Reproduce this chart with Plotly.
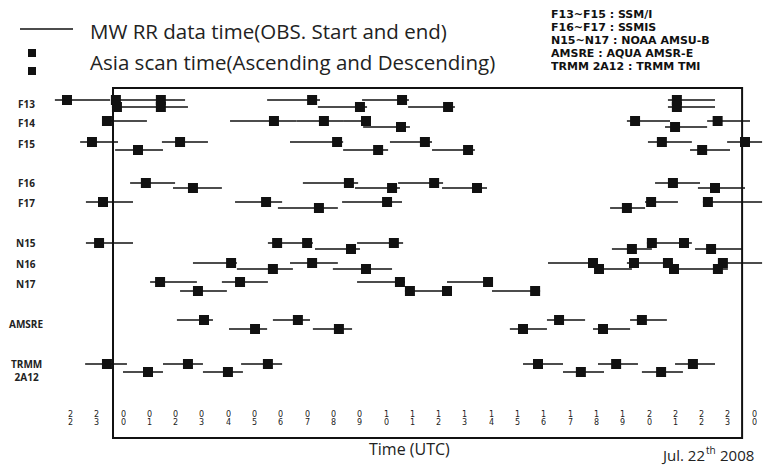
import plotly.graph_objects as go

# ---------------- data (UTC hours, relative to Jul. 22 00:00) ----------------
SATELLITES = ["F13", "F14", "F15", "F16", "F17", "N15", "N16", "N17", "AMSRE", "TRMM 2A12"]
ROW_LABELS = ["F13", "F14", "F15", "F16", "F17", "N15", "N16", "N17", "AMSRE", "TRMM<br>2A12"]

# each pass: (observation start, observation end, [Asia scan times])
F13_A = [(-2.59, -0.49, [-2.13]), (-0.42, 2.36, [-0.27, 1.44]), (5.48, 7.49, [7.19]),
         (9.09, 10.87, [10.61]), (20.72, 22.51, [21.06])]
F13_B = [(-0.42, 2.47, [-0.23, 1.44]), (7.41, 9.28, [9.01]), (10.84, 12.62, [12.36]),
         (20.72, 22.51, [21.06])]
F14_A = [(-0.76, 0.91, [-0.61]), (4.07, 6.60, [5.74]), (6.60, 8.40, [7.64]), (8.40, 9.39, [9.24]),
         (19.16, 20.80, [19.47]), (22.21, 23.84, [22.61])]
F14_B = [(9.13, 10.91, [10.57]), (20.61, 22.21, [20.99])]
F15_A = [(-1.63, -0.19, [-1.18]), (1.48, 3.23, [2.17]), (6.35, 8.37, [8.14]),
         (10.15, 11.75, [11.48]), (19.96, 21.63, [20.49]), (22.97, 24.30, [23.65])]
F15_B = [(-0.30, 1.52, [0.57]), (8.37, 10.08, [9.70]), (11.75, 13.38, [13.12]),
         (21.56, 23.08, [22.02])]
F16_A = [(0.27, 1.98, [0.87]), (6.84, 8.94, [8.59]), (10.46, 12.17, [11.83]),
         (20.23, 21.94, [20.91])]
F16_B = [(1.90, 3.76, [2.66]), (8.82, 10.53, [10.23]), (12.13, 13.84, [13.46]),
         (21.86, 23.65, [22.51])]
F17_A = [(-1.41, 0.38, [-0.76]), (4.26, 6.05, [5.44]), (8.33, 10.61, [10.04]),
         (19.85, 21.10, [20.08]), (22.05, 24.30, [22.24])]
F17_B = [(5.89, 8.17, [7.45]), (18.52, 19.85, [19.16])]
N15_A = [(-1.41, 0.38, [-0.91]), (5.51, 7.22, [5.86, 7.00]), (8.90, 10.65, [10.30]),
         (19.92, 21.63, [20.11, 21.33])]
N15_B = [(7.30, 9.01, [8.67]), (18.59, 20.11, [19.35]), (21.75, 23.54, [22.36])]
N16_A = [(2.66, 4.33, [4.11]), (6.35, 8.17, [7.19]), (16.16, 18.06, [17.87]),
         (19.16, 20.91, [19.43, 20.72]), (22.70, 24.30, [22.81])]
N16_B = [(4.33, 6.46, [5.70]), (7.98, 10.23, [9.24]), (17.95, 19.35, [18.10]),
         (20.80, 23.00, [20.95, 22.62])]
N17_A = [(1.03, 2.81, [1.41]), (3.76, 5.51, [4.45]), (8.90, 10.72, [10.53]),
         (12.32, 14.07, [13.88])]
N17_B = [(2.17, 3.95, [2.85]), (10.72, 12.51, [10.91, 12.32]), (14.03, 15.86, [15.67])]
AMSRE_A = [(2.05, 3.42, [3.08]), (5.70, 7.11, [6.65]), (16.12, 17.57, [16.58]),
           (19.28, 20.68, [19.73])]
AMSRE_B = [(4.03, 5.48, [5.02]), (7.22, 8.71, [8.21]), (14.71, 16.12, [15.21]),
           (17.87, 19.28, [18.25])]
TRMM_A = [(-1.44, 0.15, [-0.61]), (1.52, 3.04, [2.47]), (4.49, 6.05, [5.51]),
          (15.21, 16.73, [15.78]), (18.06, 19.58, [18.75]), (20.99, 22.51, [21.67])]
TRMM_B = [(0.00, 1.52, [0.95]), (3.04, 4.56, [3.99]), (16.73, 18.29, [17.41]),
          (19.73, 21.29, [20.46])]

PASSES = {
    "F13": (F13_A, F13_B), "F14": (F14_A, F14_B), "F15": (F15_A, F15_B),
    "F16": (F16_A, F16_B), "F17": (F17_A, F17_B), "N15": (N15_A, N15_B),
    "N16": (N16_A, N16_B), "N17": (N17_A, N17_B), "AMSRE": (AMSRE_A, AMSRE_B),
    "TRMM 2A12": (TRMM_A, TRMM_B),
}

TICK_HOURS = list(range(-2, 25))
TICK_LABELS = ["22", "23"] + [f"{h:02d}" for h in range(24)] + ["00"]

SENSOR_NOTES = ["F13~F15 : SSM/I", "F16~F17 : SSMIS", "N15~N17 : NOAA AMSU-B",
                "AMSRE : AQUA AMSR-E", "TRMM 2A12 : TRMM TMI"]
DATE_PARTS = ("Jul. 22", "th", "2008")

# ---------------- layout (positions, sizes, styles) ----------------
W, H = 764, 467
PX0, PX_PER_H = 123.0, 26.3          # pixel of 00 UTC, pixels per hour
X_RANGE = [-PX0 / PX_PER_H, (W - PX0) / PX_PER_H]
ROW_Y = {"F13": (100, 107), "F14": (121, 127), "F15": (142, 150), "F16": (183, 188),
         "F17": (202, 208), "N15": (243, 249), "N16": (263, 269), "N17": (282, 291),
         "AMSRE": (320, 329), "TRMM 2A12": (364, 372)}
LABEL_Y = {"F13": 104, "F14": 123, "F15": 144, "F16": 183, "F17": 203, "N15": 243,
           "N16": 264, "N17": 284, "AMSRE": 324, "TRMM 2A12": 370}
INK = "#111111"


def py(px):
    return 1 - px / H


lx, ly, mx, my = [], [], [], []
for sat in SATELLITES:
    for lane, passes in enumerate(PASSES[sat]):
        y = ROW_Y[sat][lane]
        for start, end, scans in passes:
            lx += [start, end, None]
            ly += [y, y, None]
            for s in scans:
                mx.append(s)
                my.append(y)

fig = go.Figure()
fig.add_trace(go.Scatter(x=lx, y=ly, mode="lines", line=dict(color=INK, width=1.5),
                         hoverinfo="skip", showlegend=False))
fig.add_trace(go.Scatter(x=mx, y=my, mode="markers",
                         marker=dict(symbol="square", size=10, color=INK, line=dict(width=0)),
                         showlegend=False))

# frame box
fig.add_shape(type="rect", xref="x", yref="y", x0=-0.38, x1=23.54, y0=88, y1=438,
              line=dict(color=INK, width=2), layer="below")

ann = []
# stacked-digit time ticks
for h, lab in zip(TICK_HOURS, TICK_LABELS):
    for k, ch in enumerate(lab):
        ann.append(dict(x=h, y=414 + 8 * k, xref="x", yref="y", text=ch, showarrow=False,
                        height=8, borderpad=0,
                        font=dict(family="DejaVu Sans", size=8, color="#222"),
                        xanchor="center", yanchor="middle"))
# row labels
for sat, lab in zip(SATELLITES, ROW_LABELS):
    ann.append(dict(x=26 / W, y=LABEL_Y[sat], xref="paper", yref="y", text=lab,
                    showarrow=False, xanchor="center", yanchor="middle",
                    font=dict(family="Open Sans", size=10, color="#222", weight="bold")))

# sensor notes (top right)
for i, t in enumerate(SENSOR_NOTES):
    ann.append(dict(x=550 / W, y=py(14 + 13 * i), xref="paper", yref="paper",
                    text=t, showarrow=False, xanchor="left", yanchor="middle",
                    height=12, borderpad=0,
                    font=dict(family="DejaVu Sans", size=11, color="#111", weight="bold")))

# legend texts
ann.append(dict(x=88 / W, y=py(31), xref="paper", yref="paper",
                text="MW RR data time(OBS. Start and end)", showarrow=False,
                xanchor="left", yanchor="middle",
                font=dict(family="Open Sans", size=20.5, color="#222")))
ann.append(dict(x=88 / W, y=py(62), xref="paper", yref="paper",
                text="Asia scan time(Ascending and Descending)", showarrow=False,
                xanchor="left", yanchor="middle",
                font=dict(family="Open Sans", size=20.5, color="#222")))
# axis title
ann.append(dict(x=409 / W, y=py(449), xref="paper", yref="paper", text="Time (UTC)",
                showarrow=False, xanchor="center", yanchor="middle",
                font=dict(family="Open Sans", size=16, color="#222")))
# date (built from parts so the superscript stays inside the page)
date_font = dict(family="Open Sans", size=15, color="#222")
ann.append(dict(x=706 / W, y=py(455), xref="paper", yref="paper", text=DATE_PARTS[0],
                showarrow=False, xanchor="right", yanchor="middle", font=date_font,
                borderpad=0))
ann.append(dict(x=705 / W, y=py(450), xref="paper", yref="paper", text=DATE_PARTS[1],
                showarrow=False, xanchor="left", yanchor="middle", borderpad=0,
                font=dict(family="Open Sans", size=10, color="#222")))
ann.append(dict(x=719 / W, y=py(455), xref="paper", yref="paper", text=DATE_PARTS[2],
                showarrow=False, xanchor="left", yanchor="middle", font=date_font,
                borderpad=0))

# legend symbols
fig.add_shape(type="line", xref="paper", yref="paper", x0=20 / W, x1=73 / W,
              y0=py(29), y1=py(29), line=dict(color=INK, width=1.3))
for yy in (53, 71):
    fig.add_shape(type="rect", xref="paper", yref="paper", x0=28 / W, x1=36 / W,
                  y0=py(yy - 4), y1=py(yy + 4), fillcolor=INK, line=dict(width=0))

fig.update_layout(
    width=W, height=H, margin=dict(l=0, r=0, t=0, b=0),
    paper_bgcolor="white", plot_bgcolor="white",
    xaxis=dict(range=X_RANGE, visible=False, fixedrange=True),
    yaxis=dict(range=[H, 0], visible=False, fixedrange=True),
    annotations=ann, showlegend=False, hovermode=False,
)
# remove the browser's default page margin so the figure fills the window exactly
fig.write_html("out.html", config={"displayModeBar": False, "staticPlot": True},
               post_script="document.body.style.margin='0px';")
